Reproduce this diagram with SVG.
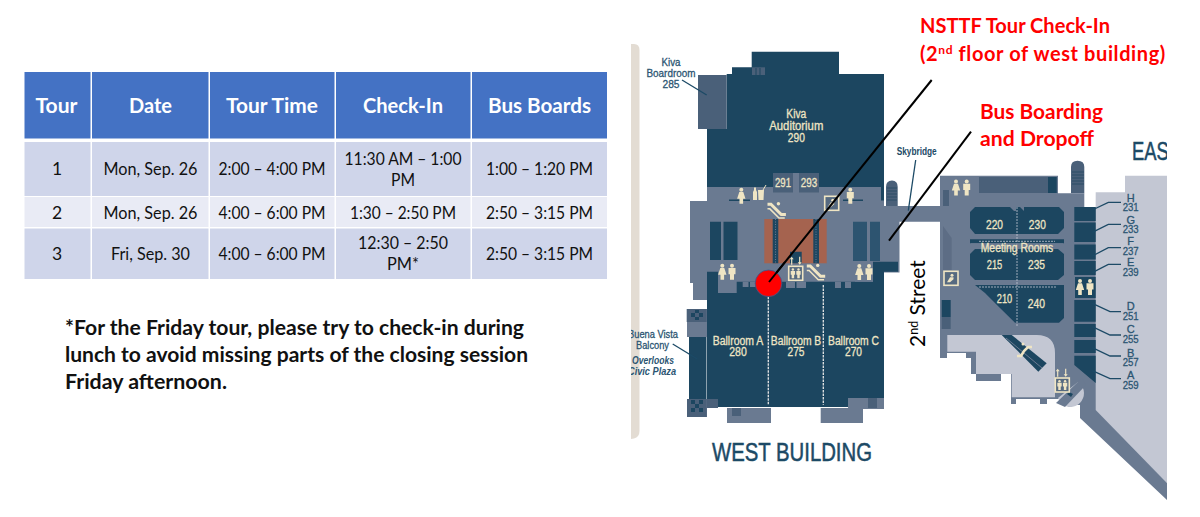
<svg xmlns="http://www.w3.org/2000/svg" width="1200" height="517" viewBox="0 0 1200 517">
<style>
.h{fill:#4472c4}.o{fill:#cfd5ea}.e{fill:#e9ebf5}
.tt{font:700 20px Lato,"Liberation Sans",sans-serif;fill:#fff;text-anchor:middle}
.td{font:400 17.5px Lato,"Liberation Sans",sans-serif;fill:#111;text-anchor:middle}
.nt{font:700 20px Lato,"Liberation Sans",sans-serif;fill:#111}
.rd{font:700 20px Lato,"Liberation Sans",sans-serif;fill:#f00}
.d{fill:#1c4660}.g{fill:#6a7a91}.m{fill:#4a6079}.l{fill:#c3c7d3}
.c{font:400 12px "Liberation Sans Narrow","Liberation Sans",sans-serif;fill:#efe5c4;stroke:#efe5c4;stroke-width:.3;text-anchor:middle}
.b{font:400 11px "Liberation Sans Narrow","Liberation Sans",sans-serif;fill:#2b5572;stroke:#2b5572;stroke-width:.3;text-anchor:middle}
.bb{font:700 10.5px "Liberation Sans Narrow","Liberation Sans",sans-serif;fill:#1c4a66;text-anchor:middle}
.bi{font:italic 700 11px "Liberation Sans Narrow","Liberation Sans",sans-serif;fill:#2b5572;text-anchor:middle}
.big{font:400 25px "Liberation Sans Narrow","Liberation Sans",sans-serif;fill:#1c4a66;stroke:#1c4a66;stroke-width:.5}
.ld{fill:none;stroke:#1c4a66;stroke-width:1.3}
.ic{fill:#efe5c4}.ib{fill:#566a80;stroke:#efe5c4;stroke-width:1.6}
.es{fill:none;stroke:#efe5c4;stroke-width:2.6}
.cn{stroke:#000;stroke-width:2;fill:none}
</style>
<defs>
<clipPath id="mapclip"><rect x="631" y="0" width="536" height="517"/></clipPath>
<g id="wo"><circle cx="0" cy="-6" r="2"/><path d="M-2-3.800H2L4.200 3H1.800V8H-1.800V3H-4.200Z"/></g>
<g id="ma"><circle cx="0" cy="-6" r="2"/><path d="M-3.500-3.800H3.500V2.500H2V8H-2V2.500H-3.500Z"/></g>
<g id="esc"><g transform="scale(1.15)"><path class="es" d="M-8-5H-5L4 4H8"/><path class="es" style="stroke-width:1.300" d="M-8-1H-6L2 7H7"/><circle class="ic" cx="1.500" cy="-5.500" r="1.500"/></g></g>
<g id="ele"><rect class="ib" x="-7" y="-7" width="14" height="14"/><use href="#ma" transform="translate(-2.800 0) scale(.62)" class="ic"/><use href="#ma" transform="translate(2.800 0) scale(.62)" class="ic"/></g>
<path id="arr" class="ic" d="M-4-4-6-1.500H-4.600V4H-3.400V-1.500H-2ZM3.400-4V1.500H2L4 4 6 1.500H4.600V-4Z"/>
<g id="acc"><rect class="ib" x="-7" y="-7" width="14" height="14"/><circle class="ic" cx="1" cy="-3" r="1.500"/><path class="ic" d="M-4 4-1-1H2.500V1L-1 4Z"/></g>
</defs>

<g id="schedule-table">
<rect class="h" x="24.500" y="72" width="66" height="66.500"/><rect class="h" x="92" y="72" width="116.500" height="66.500"/><rect class="h" x="210" y="72" width="124.500" height="66.500"/><rect class="h" x="336" y="72" width="134.500" height="66.500"/><rect class="h" x="472" y="72" width="135" height="66.500"/>
<rect class="o" x="24.500" y="142" width="66" height="54"/><rect class="o" x="92" y="142" width="116.500" height="54"/><rect class="o" x="210" y="142" width="124.500" height="54"/><rect class="o" x="336" y="142" width="134.500" height="54"/><rect class="o" x="472" y="142" width="135" height="54"/>
<rect class="e" x="24.500" y="197" width="66" height="30"/><rect class="e" x="92" y="197" width="116.500" height="30"/><rect class="e" x="210" y="197" width="124.500" height="30"/><rect class="e" x="336" y="197" width="134.500" height="30"/><rect class="e" x="472" y="197" width="135" height="30"/>
<rect class="o" x="24.500" y="228.500" width="66" height="50.500"/><rect class="o" x="92" y="228.500" width="116.500" height="50.500"/><rect class="o" x="210" y="228.500" width="124.500" height="50.500"/><rect class="o" x="336" y="228.500" width="134.500" height="50.500"/><rect class="o" x="472" y="228.500" width="135" height="50.500"/>
<text class="tt" x="56.500" y="113" textLength="42" lengthAdjust="spacingAndGlyphs">Tour</text>
<text class="tt" x="150.500" y="113" textLength="43" lengthAdjust="spacingAndGlyphs">Date</text>
<text class="tt" x="272" y="113" textLength="92" lengthAdjust="spacingAndGlyphs">Tour Time</text>
<text class="tt" x="403" y="113" textLength="80" lengthAdjust="spacingAndGlyphs">Check-In</text>
<text class="tt" x="539.500" y="113" textLength="103" lengthAdjust="spacingAndGlyphs">Bus Boards</text>
<text class="td" x="57" y="174.500">1</text>
<text class="td" x="150.500" y="174.500" textLength="94" lengthAdjust="spacingAndGlyphs">Mon, Sep. 26</text>
<text class="td" x="272" y="174.500" textLength="107" lengthAdjust="spacingAndGlyphs">2:00 – 4:00 PM</text>
<text class="td" x="403" y="164.500" textLength="117" lengthAdjust="spacingAndGlyphs">11:30 AM – 1:00</text>
<text class="td" x="403" y="186" textLength="24" lengthAdjust="spacingAndGlyphs">PM</text>
<text class="td" x="539.500" y="174.500" textLength="107" lengthAdjust="spacingAndGlyphs">1:00 – 1:20 PM</text>
<text class="td" x="57" y="218.500">2</text>
<text class="td" x="150.500" y="218.500" textLength="94" lengthAdjust="spacingAndGlyphs">Mon, Sep. 26</text>
<text class="td" x="272" y="218.500" textLength="107" lengthAdjust="spacingAndGlyphs">4:00 – 6:00 PM</text>
<text class="td" x="403" y="218.500" textLength="106" lengthAdjust="spacingAndGlyphs">1:30 – 2:50 PM</text>
<text class="td" x="539.500" y="218.500" textLength="107" lengthAdjust="spacingAndGlyphs">2:50 – 3:15 PM</text>
<text class="td" x="57" y="259.500">3</text>
<text class="td" x="150.500" y="259.500" textLength="79" lengthAdjust="spacingAndGlyphs">Fri, Sep. 30</text>
<text class="td" x="272" y="259.500" textLength="107" lengthAdjust="spacingAndGlyphs">4:00 – 6:00 PM</text>
<text class="td" x="403" y="248.500" textLength="90" lengthAdjust="spacingAndGlyphs">12:30 – 2:50</text>
<text class="td" x="403" y="270" textLength="32" lengthAdjust="spacingAndGlyphs">PM*</text>
<text class="td" x="539.500" y="259.500" textLength="107" lengthAdjust="spacingAndGlyphs">2:50 – 3:15 PM</text>
</g>

<g id="footnote">
<text class="nt" x="65" y="335" textLength="459" lengthAdjust="spacingAndGlyphs">*For the Friday tour, please try to check-in during</text>
<text class="nt" x="65" y="362" textLength="463" lengthAdjust="spacingAndGlyphs">lunch to avoid missing parts of the closing session</text>
<text class="nt" x="65" y="388.500" textLength="162" lengthAdjust="spacingAndGlyphs">Friday afternoon.</text>
</g>

<g id="plaza-strip"><path d="M631 44H634Q639.500 44 639.500 50V431Q639.500 437 634 438.500L631 439Z" fill="#e3dcd3"/></g>

<g id="west-building">
<path class="m" d="M886 206V187Q886 180.500 892 180.500 897.700 180.500 897.700 187V206Z"/>
<path d="M887 188H897M887 191H897M887 194H897M887 197H897M887 200H897" stroke="#1c4660" stroke-width=".7"/>
<path class="g" d="M690 201H707V187H884V206H940V221.700H899.500V272.500H884V282H707V300H693V309H707V337H693V399H707V417H687V399H689V337H687V309H693V283H690Z"/>
<path class="d" d="M751.700 51.700H839V74H884V206H880V187H707V129H726.700V74H732V67.300H751.700Z"/>
<path class="m" d="M698 75H726.700V129H698Z"/>
<path d="M752 67.300H765V75H752Z" class="m"/>
<path d="M756 68V75M760 68V75" stroke="#1c4660"/>
<path class="g" d="M707.500 187H729V200.500H707.500ZM729.500 187H750V199H729.500ZM793 173H799V201H793ZM843 187H881V206H843Z"/>
<path class="m" d="M773 173H793V192.500H773ZM799 173H819V192.500H799Z"/>
<path class="g" d="M707.500 200.500H884V206.500H707.500Z"/>
<path class="d" d="M729 199.500H750V201H729ZM843 199.500H863V201H843Z"/>
<path class="d" d="M710 221.700H721V260H710ZM723.500 221.700H737.500V260H723.500Z"/>
<path fill="#2d5470" d="M853 221.700H867V261H853ZM870 221.700H880V261H870Z"/>
<rect x="764.300" y="219" width="62.400" height="44.300" fill="#a5634f"/>
<path class="d" d="M772.700 219H778.300V263.300H772.700ZM813.300 219H819V263.300H813.300ZM790 251.700H801.700V263.300H790Z"/>
<path stroke="#6a7a91" stroke-width="1" stroke-dasharray="1 1.500" d="M775.500 219V263M816 219V263"/>
<path class="d" d="M707 281.700H884V407H707Z"/>
<path class="d" d="M707 271.700H718V300H707ZM873 261.700H898V271.700H884V284H873Z"/>
<path class="g" d="M718 262H736.700V293H718ZM855 262H873V281.700H855ZM742.700 281.700H748.500V287H742.700ZM750 281.700H755.500V287H750ZM786 281.700H795V288H786ZM796.500 281.700H806V288H796.500ZM835 281.700H841V288H835ZM845 281.700H851V288H845Z"/>
<path class="g" d="M727 408H771V423H727ZM820.700 408H863V423H820.700ZM848 398H863V408H848ZM863 398H884V409H863ZM707 399H718V408H707Z"/>
<path class="m" d="M732 408H741V416H732ZM707 399H718V408H707ZM868 398H877V408H868Z"/>
<path stroke="#e6e6e6" stroke-width="1.300" stroke-dasharray="2.500 1" d="M768.300 296.700V404.700M823.300 285V404.700"/>
<path class="d" d="M689 337H706.500V399H689Z"/>
<path class="m" d="M686.700 309H706.700V322H686.700ZM687 399H706.700V417H687Z"/>
<path fill="#1c4660" d="M695 310h4v3h-4zM691 313h4v4h-4zM699 313h4v4h-4zM695 317h4v3h-4zM691 400h4v4h-4zM699 400h4v4h-4zM695 404h4v4h-4zM691 408h4v4h-4zM699 408h4v4h-4z"/>
<use href="#wo" x="741.300" y="195.700" class="ic"/><use href="#ma" x="850.300" y="195.700" class="ic"/>
<use href="#wo" x="722.300" y="271.700" class="ic"/><use href="#ma" x="732" y="271.700" class="ic"/>
<use href="#wo" x="859.300" y="272" class="ic"/><use href="#ma" x="869" y="272" class="ic"/>
<path class="ic" d="M754 187.500H756V190L757 192V200H753V192L754 190ZM758 190H764L763.500 200H758.500Z"/>
<path d="M763 190 766 185" stroke="#efe5c4"/>
<use href="#esc" x="776.700" y="210"/><use href="#esc" x="816" y="271.700"/>
<use href="#ele" x="795.700" y="273.300"/><use href="#arr" x="795.700" y="260.700"/>
<use href="#acc" x="831.700" y="203.300"/>
</g>

<g id="east-building">
<path class="l" d="M1095.700 192.300H1125V175.700H1167V483L1095 410Z"/>
<path class="m" d="M1071 193.300V167Q1071 160.700 1077.500 160.700 1084.300 160.700 1084.300 167V193.300Z"/>
<path d="M1072 172H1084M1072 175H1084M1072 178H1084M1072 181H1084M1072 184H1084" stroke="#1c4660" stroke-width=".7"/>
<path class="g" d="M940 175.700H1058V193.300H1084.300V207H1095.700V410L1167 483V500L1080 418V405L1075 405 1070 407 1064 405 1060 399H1047V404H1040V399H1016V404H1011V374H1001V381H976V374H971V358H966V353H947V358H940Z"/>
<path class="l" d="M947.300 335H1036.700Q1055 335 1055 353V397.300H1011.700V374H976V351.700H947.300Z"/>
<path class="m" d="M979 177H1056.700V193H979Z"/>
<path class="d" d="M1048 177H1056.700V193H1048Z"/>
<path class="m" d="M943 190H949V206H943Z"/><path fill="#5d6d85" d="M943 226L951.700 238V270H943Z"/>
<path class="d" d="M941.700 300H950.700V317H941.700Z"/><path class="m" d="M941.700 317H950.700V329H941.700Z"/>
<path class="d" d="M975 207H1010L1014 211H1016V207H1020L1024 211V207H1059L1064 212V228L1058 234H975L970 228V212Z"/>
<path class="d" d="M970 239.300H1064V243.300H970Z"/>
<path class="d" d="M975 249H1058L1064 254V275L1058 280H975L970 275V254Z"/>
<path class="d" d="M975 285H1064V318L1059 322.700H1015L1000 308 985 293Z"/>
<path stroke="#c3c7d3" stroke-width=".8" stroke-dasharray="2 1" d="M979 241.300H1055M979 287H1056M1017 207V326" fill="none"/>
<path class="g" d="M971 243.300H1063V249H971Z"/>
<path class="d" d="M1074.300 207H1095.700V221H1074.300ZM1074.300 222.500H1095.700V242H1074.300ZM1074.300 244.500H1095.700V259.500H1074.300ZM1074.300 261H1095.700V275H1074.300ZM1074.300 300H1095.700V321.700H1074.300ZM1074.300 324H1095.700V337H1074.300ZM1074.300 340H1095.700V353H1074.300ZM1074.300 355.700H1095.700V383L1074.300 365ZM1075 277H1095.700V298H1075Z"/>
<path class="d" d="M1001.700 335H1011.700L1046.700 363.300 1038.300 371.700Z"/>
<path stroke="#6a7a91" d="M1006 338 1042 368"/>
<path d="M1058 398A14 14 0 0 0 1070 407 14 14 0 0 0 1084 393 14 14 0 0 0 1078 382" fill="#c3c7d3"/>
<path class="g" d="M1056 403 1082 378 1086 385 1065 407Z"/>
<path class="d" d="M1069 392 1073 394 1071 397 1067 394Z"/>
<use href="#wo" x="956" y="187.500" class="ic"/><use href="#ma" x="966.700" y="187.500" class="ic"/>
<use href="#wo" x="1080" y="287" class="ic"/><use href="#ma" x="1090" y="287" class="ic"/>
<use href="#acc" x="951" y="278.300"/>
<use href="#ele" x="1062.300" y="385"/><use href="#arr" x="1061.700" y="372.700"/>
<path class="es" d="M1017 356 1021 356 1024 351 1028 347 1032 347"/>
<circle class="ic" cx="1023" cy="344" r="1.500"/>
</g>

<g id="map-labels" clip-path="url(#mapclip)">
<text class="b" x="671" y="66" textLength="19" lengthAdjust="spacingAndGlyphs">Kiva</text>
<text class="b" x="671" y="76.500" textLength="49" lengthAdjust="spacingAndGlyphs">Boardroom</text>
<text class="b" x="671" y="88" textLength="17" lengthAdjust="spacingAndGlyphs">285</text>
<path class="ld" d="M682 80 706.700 95"/>
<text class="c" x="796.300" y="118" textLength="20" lengthAdjust="spacingAndGlyphs">Kiva</text>
<text class="c" x="796.300" y="130" textLength="54" lengthAdjust="spacingAndGlyphs">Auditorium</text>
<text class="c" x="796.300" y="141.500" textLength="17" lengthAdjust="spacingAndGlyphs">290</text>
<text class="c" x="783" y="187" textLength="16" lengthAdjust="spacingAndGlyphs">291</text>
<text class="c" x="809" y="187" textLength="16.500" lengthAdjust="spacingAndGlyphs">293</text>
<text class="bb" x="916.700" y="155" textLength="40" lengthAdjust="spacingAndGlyphs">Skybridge</text>
<path class="ld" d="M915.700 160 908.300 210.700"/>
<text class="c" x="738" y="345" textLength="50.500" lengthAdjust="spacingAndGlyphs">Ballroom A</text>
<text class="c" x="738" y="356" textLength="17.500" lengthAdjust="spacingAndGlyphs">280</text>
<text class="c" x="796" y="345" textLength="50.500" lengthAdjust="spacingAndGlyphs">Ballroom B</text>
<text class="c" x="796" y="356" textLength="17" lengthAdjust="spacingAndGlyphs">275</text>
<text class="c" x="853.500" y="345" textLength="51" lengthAdjust="spacingAndGlyphs">Ballroom C</text>
<text class="c" x="853.500" y="356" textLength="17" lengthAdjust="spacingAndGlyphs">270</text>
<text class="b" x="653" y="338" textLength="50" lengthAdjust="spacingAndGlyphs">Buena Vista</text>
<text class="b" x="652.500" y="348.500" textLength="33" lengthAdjust="spacingAndGlyphs">Balcony</text>
<path class="ld" d="M672.700 344 697.300 359"/>
<text class="bi" x="653" y="364" textLength="42" lengthAdjust="spacingAndGlyphs">Overlooks</text>
<text class="bi" x="652" y="374.500" textLength="48" lengthAdjust="spacingAndGlyphs">Civic Plaza</text>
<text class="big" x="792" y="461" textLength="160" lengthAdjust="spacingAndGlyphs" text-anchor="middle">WEST BUILDING</text>
<text class="big" x="1132" y="160" textLength="48" lengthAdjust="spacingAndGlyphs">EAST</text>
<text class="c" x="994.500" y="229" textLength="17" lengthAdjust="spacingAndGlyphs">220</text>
<text class="c" x="1037.300" y="229" textLength="17" lengthAdjust="spacingAndGlyphs">230</text>
<text class="c" x="1017" y="251.700" textLength="72.500" lengthAdjust="spacingAndGlyphs">Meeting Rooms</text>
<text class="c" x="994.500" y="268.700" textLength="15.500" lengthAdjust="spacingAndGlyphs">215</text>
<text class="c" x="1036.500" y="268.700" textLength="17" lengthAdjust="spacingAndGlyphs">235</text>
<text class="c" x="1004.500" y="302.700" textLength="15.500" lengthAdjust="spacingAndGlyphs">210</text>
<text class="c" x="1036.300" y="308.300" textLength="17.300" lengthAdjust="spacingAndGlyphs">240</text>
<path class="ld" d="M1092.300 210 1108.300 202.300H1121M1092.300 232.300 1108.300 224.300H1121M1092.300 256 1108.300 247.700H1121M1092.300 272.700 1108.300 264.300H1121M1092.300 303.300 1110 311.700H1121M1092.300 326.700 1110 335H1121M1092.300 347.700 1110 356H1121M1092.300 370.700 1110 378.700H1121"/>
<text class="b" x="1130.700" y="201.700">H</text><text class="b" x="1130.700" y="211" textLength="16" lengthAdjust="spacingAndGlyphs">231</text>
<text class="b" x="1130.700" y="224">G</text><text class="b" x="1130.700" y="233.300" textLength="16" lengthAdjust="spacingAndGlyphs">233</text>
<text class="b" x="1130.700" y="245">F</text><text class="b" x="1130.700" y="255" textLength="16" lengthAdjust="spacingAndGlyphs">237</text>
<text class="b" x="1130.700" y="266">E</text><text class="b" x="1130.700" y="275.700" textLength="16" lengthAdjust="spacingAndGlyphs">239</text>
<text class="b" x="1130.700" y="310">D</text><text class="b" x="1130.700" y="320" textLength="16" lengthAdjust="spacingAndGlyphs">251</text>
<text class="b" x="1130.700" y="333">C</text><text class="b" x="1130.700" y="343" textLength="16" lengthAdjust="spacingAndGlyphs">255</text>
<text class="b" x="1130.700" y="356.700">B</text><text class="b" x="1130.700" y="366" textLength="16" lengthAdjust="spacingAndGlyphs">257</text>
<text class="b" x="1130.700" y="379">A</text><text class="b" x="1130.700" y="388.700" textLength="16" lengthAdjust="spacingAndGlyphs">259</text>
</g>

<g id="connectors">
<path class="cn" d="M931.700 80 769 282"/>
<path class="cn" d="M971 131.700 889 240.700"/>
</g>
<g id="check-in-marker"><circle cx="768.500" cy="283.300" r="13.300" fill="#f00" stroke="#3a5a90" stroke-width=".8"/><path class="cn" d="M785 262 769 282"/></g>

<g id="callouts">
<text class="rd" x="920" y="33" textLength="190" lengthAdjust="spacingAndGlyphs">NSTTF Tour Check-In</text>
<text class="rd" x="920" y="61" letter-spacing=".6">(2<tspan font-size="12" dy="-7">nd</tspan><tspan dy="7"> floor of west building)</tspan></text>
<text class="rd" x="980" y="119" textLength="123" lengthAdjust="spacingAndGlyphs">Bus Boarding</text>
<text class="rd" x="980" y="146" textLength="114" lengthAdjust="spacingAndGlyphs">and Dropoff</text>
<text transform="translate(925 347) rotate(-90)" style="font:400 21px Lato,'Liberation Sans',sans-serif;fill:#000">2<tspan font-size="12.500" dy="-7">nd</tspan><tspan dy="7"> Street</tspan></text>
</g>
</svg>
